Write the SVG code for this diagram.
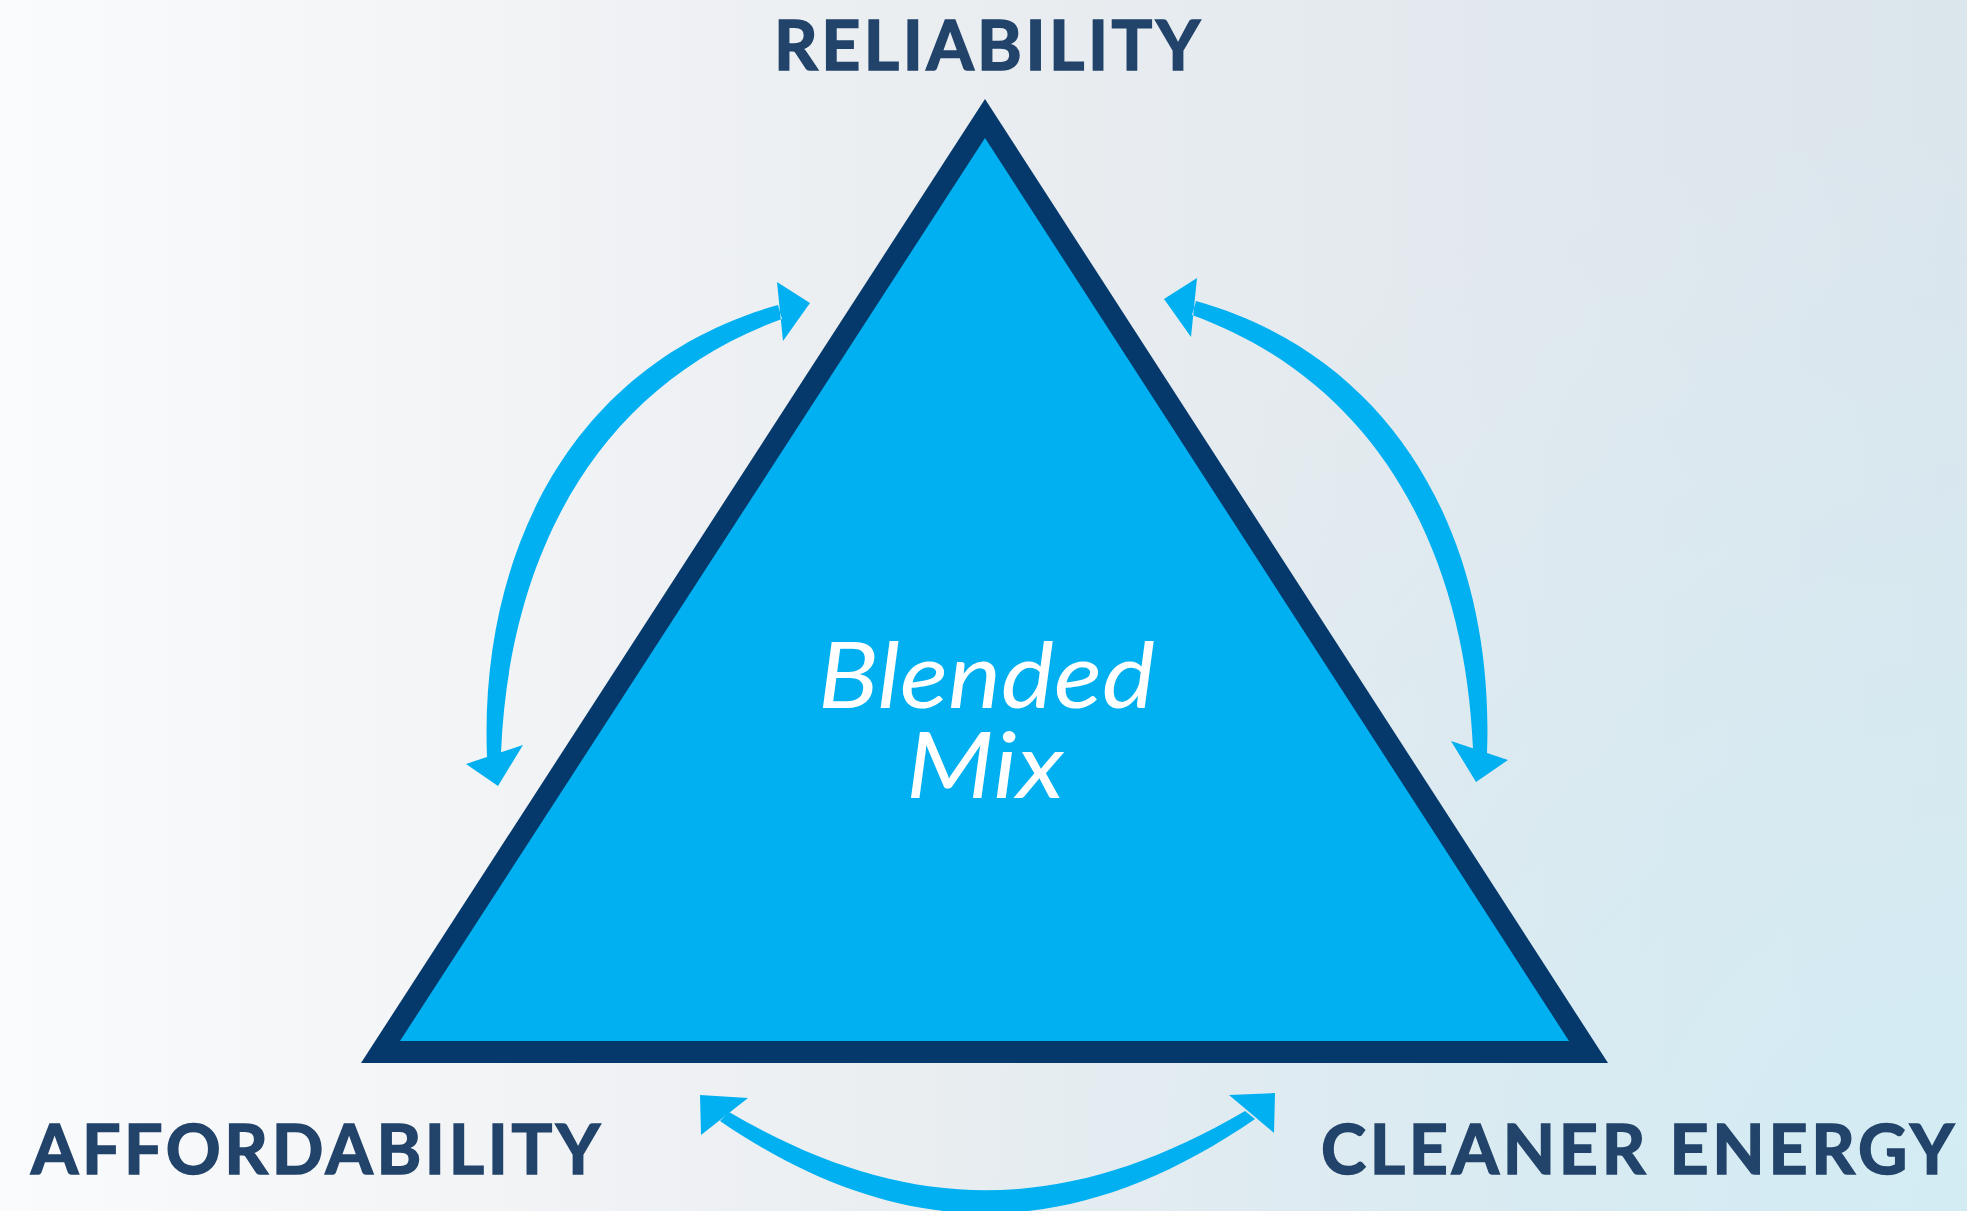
<svg xmlns="http://www.w3.org/2000/svg" width="1967" height="1211" viewBox="0 0 1967 1211">
<defs>
<linearGradient id="bg" x1="0" y1="0" x2="1" y2="0">
<stop offset="0" stop-color="#FAFBFC"/>
<stop offset="0.45" stop-color="#EBEEF1"/>
<stop offset="1" stop-color="#DBE5EC"/>
</linearGradient>
<radialGradient id="tint" cx="1967" cy="1211" r="1100" gradientUnits="userSpaceOnUse">
<stop offset="0" stop-color="#D3ECF4" stop-opacity="1"/>
<stop offset="1" stop-color="#D3ECF4" stop-opacity="0"/>
</radialGradient>
<path id="side-arrow" d="M 778 305 C 574.3 362.1, 479 549.4, 487 757 L 501 753 C 509 556.6, 595.3 386.9, 782 319 Z M 777 282 L 810 303 L 783 341 Z M 466 764 L 498 786 L 523 745 Z"/>
<style>
.lbl{font-family:Lato,"Open Sans","Liberation Sans",sans-serif;font-weight:700;font-size:68px;fill:#22436A;stroke:#22436A;stroke-width:1.6}
.mix{font-family:Lato,"Open Sans","Liberation Sans",sans-serif;font-style:italic;font-size:92px;fill:#FFFFFF}
.head{fill:#00B0F0}
</style>
</defs>
<rect x="0" y="0" width="1967" height="1211" fill="url(#bg)"/>
<rect x="0" y="0" width="1967" height="1211" fill="url(#tint)"/>
<g id="triangle">
<polygon points="985,99 1608,1063 361,1063" fill="#05386B"/>
<polygon points="985,138 1569,1041 400,1041" fill="#00B0F0"/>
<text class="mix" x="818" y="708" textLength="337" lengthAdjust="spacingAndGlyphs">Blended</text>
<text class="mix" x="906" y="798" textLength="158" lengthAdjust="spacingAndGlyphs">Mix</text>
</g>
<g id="reliability"><text class="lbl" x="774" y="70" textLength="426" lengthAdjust="spacing">RELIABILITY</text></g>
<g id="affordability"><text class="lbl" x="31" y="1174" textLength="569" lengthAdjust="spacing">AFFORDABILITY</text></g>
<g id="cleaner-energy"><text class="lbl" x="1321" y="1174" textLength="633" lengthAdjust="spacing">CLEANER ENERGY</text></g>
<g id="connectors">
<g id="arrow-left">
<use href="#side-arrow" class="head"/>
</g>
<g id="arrow-right" transform="translate(1974,-4) scale(-1,1)">
<use href="#side-arrow" class="head"/>
</g>
<g id="arrow-bottom">
<path class="head" d="M 729 1112 C 908 1217, 1066 1216, 1245 1111 L 1255 1119 C 1073 1244, 902 1245, 720 1121 Z"/>
<polygon class="head" points="700,1095 748,1098 701,1135"/>
<polygon class="head" points="1275,1093 1229,1095 1274,1133"/>
</g>
</g>
</svg>
